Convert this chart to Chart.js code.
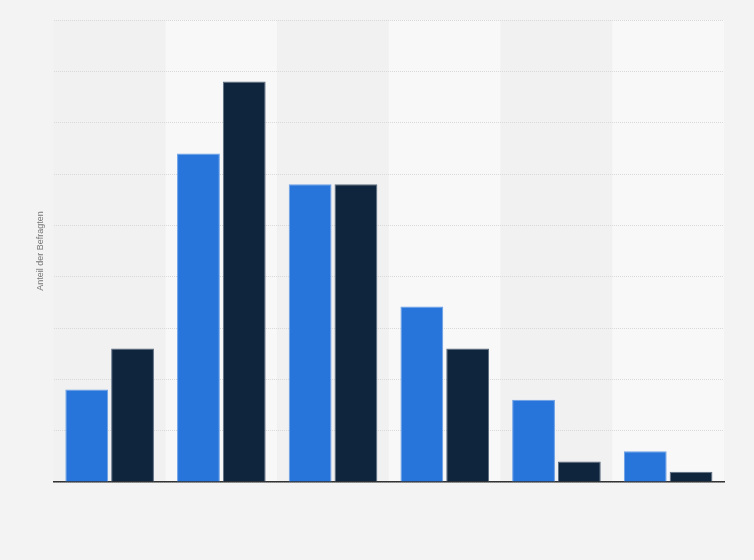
<!DOCTYPE html>
<html>
<head>
<meta charset="utf-8">
<script src="https://cdn.jsdelivr.net/npm/chart.js@4"></script>
<style>
  html, body { margin: 0; padding: 0; background: #f3f3f3; }
  #wrap { width: 754px; height: 560px; }
</style>
</head>
<body>
<div id="wrap"><canvas id="chart"></canvas></div>
<script>
// Daten (Anteil der Befragten in %)
const categories = ['1', '2', '3', '4', '5', '6'];
const seriesA = [9.0, 32.0, 29.0, 17.1, 8.0, 3.0];
const seriesB = [13.0, 39.0, 29.0, 13.0, 2.0, 1.0];
const yMax = 45;
const yStep = 5;

// Hintergrundstreifen pro Kategorie
const bandPlugin = {
    id: 'bands',
    beforeDraw(chart) {
        const { ctx, chartArea, scales } = chart;
        const x = scales.x;
        ctx.save();
        categories.forEach((c, i) => {
            const center = x.getPixelForValue(i);
            const half = (x.getPixelForValue(1) - x.getPixelForValue(0)) / 2;
            ctx.fillStyle = i % 2 === 0 ? '#f1f1f1' : '#f8f8f8';
            ctx.fillRect(center - half, chartArea.top, half * 2, chartArea.bottom - chartArea.top);
        });
        ctx.restore();
    }
};

new Chart(document.getElementById('chart'), {
    type: 'bar',
    data: {
        labels: categories,
        datasets: [{
            data: seriesA,
            backgroundColor: '#2775db',
            borderColor: '#6a9fe6',
            borderWidth: 1,
            categoryPercentage: 0.82,
            barPercentage: 0.935
        }, {
            data: seriesB,
            backgroundColor: '#0f253d',
            borderColor: '#5d6d80',
            borderWidth: 1,
            categoryPercentage: 0.82,
            barPercentage: 0.935
        }]
    },
    options: {
        responsive: true,
        maintainAspectRatio: false,
        animation: false,
        layout: { padding: { left: 35, right: 30, top: 20, bottom: 70 } },
        plugins: {
            legend: { display: false },
            tooltip: { enabled: false }
        },
        scales: {
            x: {
                ticks: { display: false },
                grid: { display: false },
                border: { display: true, color: '#333333', width: 1.5 }
            },
            y: {
                min: 0,
                max: yMax,
                ticks: { display: false, stepSize: yStep },
                grid: { color: '#d9d9d9', lineWidth: 1, drawTicks: false },
                border: { display: false, dash: [1, 1] },
                title: {
                    display: true,
                    text: 'Anteil der Befragten',
                    color: '#777777',
                    font: { family: 'Liberation Sans', size: 9 },
                    padding: { top: 0, bottom: 8 }
                }
            }
        }
    },
    plugins: [bandPlugin]
});
</script>
</body>
</html>
